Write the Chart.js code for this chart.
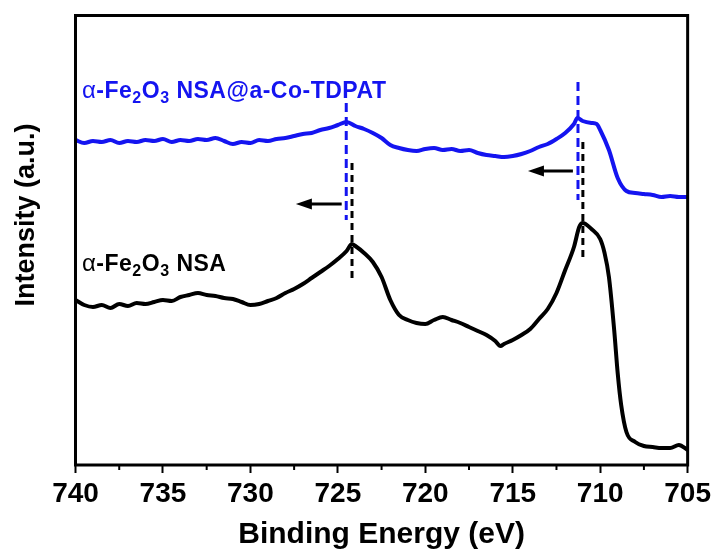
<!DOCTYPE html>
<html>
<head>
<meta charset="utf-8">
<script src="https://cdn.jsdelivr.net/npm/chart.js@4.4.1/dist/chart.umd.min.js"></script>
<style>
  html, body { margin: 0; padding: 0; background: #fff; }
</style>
</head>
<body>
<canvas id="xps" width="715" height="550"></canvas>
<script>
// Fe 2p XPS spectra, intensity in arbitrary units (stacked)
const xTicks = [740, 735, 730, 725, 720, 715, 710, 705];
const xMinorTicks = [737.5, 732.5, 727.5, 722.5, 717.5, 712.5, 707.5];

const blueEnergy = [740, 739.5, 739, 738.5, 738, 737.5, 737, 736.5, 736, 735.5, 735, 734.5, 734, 733.5, 733, 732.5, 732, 731.5, 731, 730.5, 730, 729.5, 729, 728.5, 728, 727.5, 727, 726.5, 726, 725.5, 725, 724.5, 724, 723.5, 723, 722.5, 722, 721.5, 721, 720.5, 720, 719.5, 719, 718.5, 718, 717.5, 717, 716.5, 716, 715.5, 715, 714.5, 714, 713.5, 713, 712.5, 712, 711.5, 711.3, 711, 710.5, 710.2, 710, 709.5, 709, 708.5, 708, 707.5, 707, 706.5, 706, 705.5, 705];
const blueIntensity = [325, 322, 324, 323, 325, 322, 324, 323, 325, 324, 326, 323, 325, 324, 326, 325, 327, 324, 321, 323, 322, 325, 324, 326, 327, 329, 331, 332, 335, 337, 340, 343, 339, 336, 332, 327, 320, 317, 315, 314, 316, 317, 315, 316, 314, 315, 312, 310, 309, 308, 309, 311, 314, 318, 321, 326, 332, 341, 347, 344, 342, 341, 335, 315, 287, 274, 272, 271, 270, 268, 269, 268, 268];

const blackEnergy = [740, 739.5, 739, 738.5, 738, 737.5, 737, 736.5, 736, 735.5, 735, 734.5, 734, 733.5, 733, 732.5, 732, 731.5, 731, 730.5, 730, 729.5, 729, 728.5, 728, 727.5, 727, 726.5, 726, 725.5, 725, 724.5, 724.2, 724, 723.5, 723, 722.5, 722, 721.5, 721, 720.5, 720, 719.5, 719, 718.5, 718, 717.5, 717, 716.5, 716, 715.7, 715.5, 715, 714.5, 714, 713.5, 713, 712.5, 712, 711.5, 711.2, 711, 710.5, 710, 709.75, 709.5, 709.2, 709, 708.8, 708.5, 708, 707.5, 707, 706.5, 706, 705.5, 705];
const blackIntensity = [165, 160, 158, 160, 157, 161, 159, 162, 161, 163, 165, 164, 168, 170, 172, 170, 169, 167, 166, 163, 160, 161, 164, 167, 172, 176, 181, 187, 193, 199, 206, 214, 221, 219, 212, 203, 188, 165, 150, 145, 142, 141, 145, 148, 145, 142, 138, 134, 130, 124, 119, 121, 125, 130, 136, 146, 156, 172, 195, 218, 238, 242, 236, 226, 212, 188, 135, 92, 60, 33, 23, 19, 18, 17, 17, 20, 15];

// peak markers (dashed) : [energy, yFrom, yTo]
const blueMarkers = [[724.52, 362, 245], [711.27, 383, 265]];
const blackMarkers = [[724.19, 302, 185], [710.99, 323, 208]];
// shift arrows : [fromEnergy, toEnergy, y]
const arrows = [[724.78, 727.4, 261], [711.56, 714.13, 294]];
// series labels : [energy, y, text, colour]
const seriesLabels = [
  [739.63, 367, ' NSA@a-Co-TDPAT', '#1414f0'],
  [739.63, 194, ' NSA', '#000000']
];

const BLUE = '#1414f0';
const FONT = '"Liberation Sans", Arial, Helvetica, sans-serif';

function toXY(xs, ys) {
  return xs.map((x, i) => ({ x: x, y: ys[i] }));
}

const markerSets = [];
blueMarkers.forEach(m => markerSets.push({
  data: [{ x: m[0], y: m[1] }, { x: m[0], y: m[2] }],
  borderColor: BLUE, borderWidth: 3, borderDash: [9, 5], pointRadius: 0
}));
blackMarkers.forEach(m => markerSets.push({
  data: [{ x: m[0], y: m[1] }, { x: m[0], y: m[2] }],
  borderColor: '#000', borderWidth: 3, borderDash: [7, 5], pointRadius: 0
}));

const extras = {
  id: 'extras',
  afterDraw(chart) {
    const ctx = chart.ctx;
    const xs = chart.scales.x, ys = chart.scales.y;
    const a = chart.chartArea;
    ctx.save();

    // frame
    ctx.strokeStyle = '#000';
    ctx.lineWidth = 3;
    ctx.strokeRect(a.left, a.top, a.right - a.left, a.bottom - a.top);

    // minor ticks
    ctx.lineWidth = 2;
    xMinorTicks.forEach(v => {
      const px = xs.getPixelForValue(v);
      ctx.beginPath();
      ctx.moveTo(px, a.bottom);
      ctx.lineTo(px, a.bottom + 5);
      ctx.stroke();
    });

    // arrows
    ctx.fillStyle = '#000';
    arrows.forEach(ar => {
      const x1 = xs.getPixelForValue(ar[0]);
      const x2 = xs.getPixelForValue(ar[1]);
      const y = ys.getPixelForValue(ar[2]);
      ctx.lineWidth = 3;
      ctx.beginPath();
      ctx.moveTo(x1, y);
      ctx.lineTo(x2 + 12, y);
      ctx.stroke();
      ctx.beginPath();
      ctx.moveTo(x2, y);
      ctx.lineTo(x2 + 16, y - 5.5);
      ctx.lineTo(x2 + 16, y + 5.5);
      ctx.closePath();
      ctx.fill();
    });

    // series labels
    ctx.letterSpacing = '0.5px';
    seriesLabels.forEach(l => {
      let x = xs.getPixelForValue(l[0]);
      const y = ys.getPixelForValue(l[1]);
      ctx.fillStyle = l[3];
      ctx.textBaseline = 'alphabetic';
      ctx.textAlign = 'left';
      const parts = [
        ['\u03b1', 'normal 24px ' + FONT, 0],
        ['-Fe', 'bold 23px ' + FONT, 0],
        ['2', 'bold 16px ' + FONT, 5],
        ['O', 'bold 23px ' + FONT, 0],
        ['3', 'bold 16px ' + FONT, 5],
        [l[2], 'bold 23px ' + FONT, 0]
      ];
      parts.forEach(p => {
        ctx.font = p[1];
        ctx.fillText(p[0], x, y + p[2]);
        x += ctx.measureText(p[0]).width;
      });
    });
    ctx.letterSpacing = '0px';

    // y axis title
    ctx.fillStyle = '#000';
    ctx.font = 'bold 27px ' + FONT;
    ctx.textAlign = 'center';
    ctx.textBaseline = 'middle';
    ctx.translate(27, 215);
    ctx.rotate(-Math.PI / 2);
    ctx.fillText('Intensity (a.u.)', 0, 0);
    ctx.restore();
  }
};

new Chart(document.getElementById('xps'), {
  type: 'line',
  data: {
    datasets: [
      { data: toXY(blueEnergy, blueIntensity), borderColor: BLUE, borderWidth: 4, pointRadius: 0, cubicInterpolationMode: 'monotone' },
      { data: toXY(blackEnergy, blackIntensity), borderColor: '#000', borderWidth: 4, pointRadius: 0, cubicInterpolationMode: 'monotone' }
    ].concat(markerSets)
  },
  options: {
    responsive: false,
    animation: false,
    layout: { padding: { top: 15.5, right: 25.5, left: 0, bottom: 0 } },
    plugins: { legend: { display: false }, tooltip: { enabled: false } },
    scales: {
      x: {
        type: 'linear',
        reverse: true,
        min: 705,
        max: 740,
        afterBuildTicks(scale) { scale.ticks = xTicks.map(v => ({ value: v })); },
        afterFit(scale) { scale.height = 85; },
        border: { display: false },
        grid: { display: true, drawOnChartArea: false, drawTicks: true, tickLength: 8, tickWidth: 2, tickColor: '#000' },
        ticks: { color: '#000', padding: 4, maxRotation: 0, font: { family: FONT, size: 28, weight: 'bold' } },
        title: {
          display: true, text: 'Binding Energy (eV)', color: '#000',
          font: { family: FONT, size: 30, weight: 'bold', lineHeight: 1 },
          padding: { top: 1, bottom: 0 }
        }
      },
      y: {
        min: 0,
        max: 449.5,
        afterFit(scale) { scale.width = 75.5; },
        border: { display: false },
        grid: { display: false },
        ticks: { display: false }
      }
    }
  },
  plugins: [extras]
});
</script>
</body>
</html>
